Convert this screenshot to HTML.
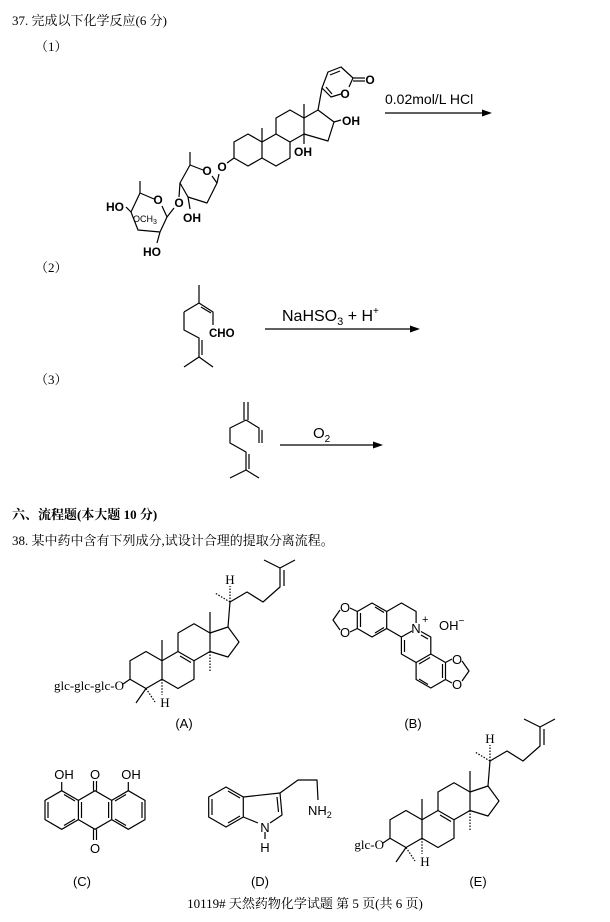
<!DOCTYPE html>
<html><head><meta charset="utf-8"><style>
html,body{margin:0;padding:0;background:#fff;}
svg{display:block;}
.cn{font-family:"Liberation Serif","Noto Serif CJK SC","Noto Sans CJK SC",serif;font-size:13px;fill:#000;}
.s{font-family:"Liberation Sans",sans-serif;fill:#000;}
.b{stroke:#000;stroke-width:1.2;fill:none;stroke-linejoin:round;}
</style></head><body>
<svg width="610" height="922" viewBox="0 0 610 922" xmlns="http://www.w3.org/2000/svg">
<text class="cn" x="12" y="25">37. 完成以下化学反应(6 分)</text>
<text class="cn" x="35" y="51">（1）</text>
<text class="cn" x="35" y="272">（2）</text>
<text class="cn" x="35" y="384">（3）</text>
<text class="cn" x="12" y="519" font-weight="bold">六、流程题(本大题 10 分)</text>
<text class="cn" x="12" y="545">38. 某中药中含有下列成分,试设计合理的提取分离流程。</text>
<text class="cn" x="305" y="908" text-anchor="middle">10119# 天然药物化学试题 第 5 页(共 6 页)</text>

<g class="b" stroke-width="1.8">
<polygon points="248,134 262,142 262,158 248,166 234,158 234,142"/>
<polyline points="262,142 276,134 290,142 290,158 276,166 262,158"/>
<polyline points="276,134 276,118 290,110 304,118 304,134 290,142"/>
<polyline points="304,118 318,110 334,122 328,141 304,134"/>
<line x1="262" y1="142" x2="262" y2="128"/>
<line x1="304" y1="118" x2="304" y2="104"/>
<line x1="318" y1="110" x2="322" y2="88"/>
<polyline points="341,94 331,97 322,88 328,72 341,67 353,78 349,87"/>
<line x1="326" y1="87" x2="332" y2="94"/>
<line x1="330" y1="75" x2="340" y2="71"/>
<line x1="353" y1="78" x2="365" y2="78"/>
<line x1="353" y1="81" x2="365" y2="81"/>
<line x1="334" y1="122" x2="341" y2="120"/>
<line x1="304" y1="134" x2="304" y2="144"/>
<line x1="234" y1="158" x2="227" y2="163"/>
<line x1="219" y1="174" x2="217" y2="183"/>
<polyline points="203,170 190,165 180,183 188,197 207,203 217,183 212,176"/>
<line x1="190" y1="165" x2="190" y2="152"/>
<line x1="188" y1="197" x2="190" y2="209"/>
<line x1="180" y1="183" x2="179" y2="197"/>
<line x1="174" y1="208" x2="167" y2="217"/>
<polyline points="154,199 140,193 131,212 138,230 160,232 167,217 162,206"/>
<line x1="140" y1="193" x2="140" y2="181"/>
<line x1="131" y1="212" x2="126" y2="207"/>
<line x1="160" y1="232" x2="157" y2="243"/>
</g>
<g class="s" font-weight="bold" font-size="12">
<text x="222" y="171" text-anchor="middle">O</text>
<text x="207" y="175" text-anchor="middle">O</text>
<text x="179" y="207" text-anchor="middle">O</text>
<text x="158" y="204" text-anchor="middle">O</text>
<text x="345" y="98" text-anchor="middle">O</text>
<text x="370" y="84" text-anchor="middle">O</text>
<text x="342" y="125">OH</text>
<text x="294" y="156">OH</text>
<text x="183" y="222">OH</text>
<text x="124" y="211" text-anchor="end">HO</text>
<text x="143" y="256">HO</text>
</g>
<text class="s" x="133" y="222" font-size="9">OCH<tspan font-size="7" dy="2">3</tspan></text>
<text class="s" x="385" y="104" font-size="14">0.02mol/L HCl</text>
<line x1="385" y1="113" x2="484" y2="113" stroke="#000" stroke-width="1.2"/>
<polygon points="492,113 482,109.5 482,116.5" fill="#000"/>

<g class="b" stroke-width="1.3">
<line x1="199" y1="285" x2="199" y2="303"/>
<polyline points="184,312 199,303 213,312 213,325"/>
<line x1="201" y1="307" x2="211" y2="313"/>
<polyline points="184,312 184,330 199,338 199,357"/>
<line x1="202" y1="340" x2="202" y2="355"/>
<line x1="199" y1="357" x2="184" y2="367"/>
<line x1="199" y1="357" x2="213" y2="367"/>
</g>
<text class="s" x="209" y="337" font-size="11.5" font-weight="bold">CHO</text>
<text class="s" x="282" y="321" font-size="16">NaHSO<tspan font-size="11" dy="4">3</tspan><tspan dy="-4"> + H</tspan><tspan font-size="10" dy="-7">+</tspan></text>
<line x1="265" y1="329" x2="412" y2="329" stroke="#000" stroke-width="1.2"/>
<polygon points="420,329 410,325.5 410,332.5" fill="#000"/>

<g class="b" stroke-width="1.3">
<line x1="244" y1="402" x2="244" y2="420"/>
<line x1="248" y1="402" x2="248" y2="420"/>
<polyline points="246,420 230,428 230,443 246,452 246,470"/>
<line x1="249" y1="454" x2="249" y2="469"/>
<line x1="246" y1="470" x2="230" y2="478"/>
<line x1="246" y1="470" x2="259" y2="478"/>
<polyline points="246,420 259,428 259,443"/>
<line x1="262" y1="430" x2="262" y2="443"/>
</g>
<text class="s" x="313" y="438" font-size="15">O<tspan font-size="10" dy="4">2</tspan></text>
<line x1="280" y1="445" x2="375" y2="445" stroke="#000" stroke-width="1.2"/>
<polygon points="383,445 373,441.5 373,448.5" fill="#000"/>

<g id="steroidA" class="b" stroke-width="1.1">
<polygon points="146,651.5 162,660.75 162,679.25 146,688.5 130,679.25 130,660.75"/>
<polyline points="162,660.75 178,651.5 194,660.75 194,679.25 178,688.5 162,679.25"/>
<polyline points="178,651.5 178,633 194,623.75 210,633 210,651.5 194,660.75"/>
<line x1="180" y1="656" x2="191" y2="662.5"/>
<polyline points="210,633 228,627 239,642 228,657 210,651.5"/>
<line x1="162" y1="660.75" x2="162" y2="640"/>
<line x1="210" y1="633" x2="210" y2="612"/>
<line x1="210" y1="651.5" x2="210" y2="672" stroke-dasharray="1.5 1.5"/>
<line x1="146" y1="688.5" x2="136" y2="703"/>
<line x1="146" y1="688.5" x2="155" y2="702" stroke-dasharray="1.5 1.5"/>
<line x1="162" y1="679.25" x2="162" y2="695" stroke-dasharray="1.5 1.5"/>
<line x1="130" y1="679.25" x2="123" y2="684"/>
<line x1="228" y1="627" x2="230" y2="602"/>
<line x1="230" y1="602" x2="215" y2="593" stroke-dasharray="1.5 1.5"/>
<line x1="230" y1="602" x2="230" y2="586" stroke-dasharray="1.5 1.5"/>
<polyline points="230,602 247,592 263,602 280,587 280,568"/>
<line x1="284" y1="586" x2="284" y2="570"/>
<line x1="280" y1="568" x2="264" y2="560"/>
<line x1="280" y1="568" x2="295" y2="560"/>
</g>
<g class="cn" font-size="13">
<text x="124" y="690" text-anchor="end">glc-glc-glc-O</text>
<text x="230" y="584" text-anchor="middle">H</text>
<text x="165" y="707" text-anchor="middle">H</text>
</g>
<text class="s" x="184" y="728" font-size="13" text-anchor="middle">(A)</text>

<g class="b" stroke-width="1.1">
<polygon points="372,603 386.7,611.5 386.7,628.5 372,637 357.3,628.5 357.3,611.5"/>
<line x1="375" y1="607" x2="384" y2="612.5"/>
<line x1="360.5" y1="613" x2="360.5" y2="627"/>
<line x1="375" y1="633" x2="384" y2="627.5"/>
<polyline points="386.7,611.5 401.4,603 416.1,611.5 416.1,623"/>
<polyline points="386.7,628.5 401.4,637"/>
<polyline points="412,631 401.4,637 401.4,654 416.1,662.5 430.8,654 430.8,637 421,631.5"/>
<line x1="404.5" y1="640" x2="404.5" y2="652"/>
<line x1="421" y1="635" x2="428" y2="639"/>
<polyline points="430.8,654 445.5,662.5 445.5,679.5 430.8,688 416.1,679.5 416.1,662.5"/>
<line x1="442.5" y1="664" x2="442.5" y2="678"/>
<line x1="419" y1="679" x2="428" y2="684.5"/>
<line x1="430" y1="657.5" x2="419" y2="664"/>
<line x1="357.3" y1="611.5" x2="350" y2="608"/>
<line x1="357.3" y1="628.5" x2="350" y2="632"/>
<polyline points="340,610 333,620 340,630"/>
<line x1="445.5" y1="662.5" x2="452" y2="659"/>
<line x1="445.5" y1="679.5" x2="452" y2="683"/>
<polyline points="462,661 469,671 462,681"/>
</g>
<g class="s" font-size="13">
<text x="345" y="612" text-anchor="middle">O</text>
<text x="345" y="637" text-anchor="middle">O</text>
<text x="457" y="664" text-anchor="middle">O</text>
<text x="457" y="689" text-anchor="middle">O</text>
<text x="416" y="633" text-anchor="middle">N</text>
<text x="422" y="623" font-size="11">+</text>
<text x="439" y="630">OH<tspan font-size="10" dy="-6">−</tspan></text>
<text x="413" y="728" text-anchor="middle">(B)</text>
</g>

<g class="b" stroke-width="1.1">
<polygon points="61.7,790.7 78.4,800.35 78.4,819.65 61.7,829.3 45,819.65 45,800.35"/>
<line x1="48" y1="802" x2="48" y2="818"/>
<line x1="64" y1="825.5" x2="75" y2="819"/>
<line x1="64" y1="794.5" x2="75" y2="801"/>
<polyline points="78.4,800.35 95,790.7 111.7,800.35 111.7,819.65 95,829.3 78.4,819.65"/>
<line x1="81.5" y1="802" x2="81.5" y2="818"/>
<line x1="108.6" y1="802" x2="108.6" y2="818"/>
<polyline points="111.7,800.35 128.3,790.7 145,800.35 145,819.65 128.3,829.3 111.7,819.65"/>
<line x1="142" y1="802" x2="142" y2="818"/>
<line x1="126" y1="825.5" x2="115" y2="819"/>
<line x1="126" y1="794.5" x2="115" y2="801"/>
<line x1="93.5" y1="790.7" x2="93.5" y2="781"/><line x1="96.5" y1="790.7" x2="96.5" y2="781"/>
<line x1="93.5" y1="829.3" x2="93.5" y2="840"/><line x1="96.5" y1="829.3" x2="96.5" y2="840"/>
<line x1="61.7" y1="790.7" x2="61.7" y2="782"/>
<line x1="128.3" y1="790.7" x2="128.3" y2="782"/>
</g>
<g class="s" font-size="13">
<text x="95" y="779" text-anchor="middle">O</text>
<text x="95" y="853" text-anchor="middle">O</text>
<text x="64" y="779" text-anchor="middle">OH</text>
<text x="131" y="779" text-anchor="middle">OH</text>
<text x="82" y="886" text-anchor="middle">(C)</text>
</g>

<g class="b" stroke-width="1.1">
<polygon points="226,787 243.3,797 243.3,817 226,827 208.7,817 208.7,797"/>
<line x1="228" y1="791" x2="240" y2="798"/>
<line x1="212" y1="799" x2="212" y2="815"/>
<line x1="228" y1="823" x2="240" y2="816"/>
<polyline points="243.3,797 280,793 282,815 270,823"/>
<line x1="277" y1="797" x2="278.5" y2="812"/>
<line x1="243.3" y1="817" x2="258" y2="823"/>
<polyline points="280,793 298,780 317,780 318,800"/>
<line x1="265" y1="832" x2="265" y2="839"/>
</g>
<g class="s" font-size="13">
<text x="265" y="832" text-anchor="middle">N</text>
<text x="265" y="852" text-anchor="middle">H</text>
<text x="308" y="815">NH<tspan font-size="9" dy="3">2</tspan></text>
<text x="260" y="886" text-anchor="middle">(D)</text>
</g>

<use href="#steroidA" transform="translate(260,159)"/>
<g class="cn" font-size="13">
<text x="384" y="849" text-anchor="end">glc-O</text>
<text x="490" y="743" text-anchor="middle">H</text>
<text x="425" y="866" text-anchor="middle">H</text>
</g>
<text class="s" x="478" y="886" font-size="13" text-anchor="middle">(E)</text>
</svg>
</body></html>
